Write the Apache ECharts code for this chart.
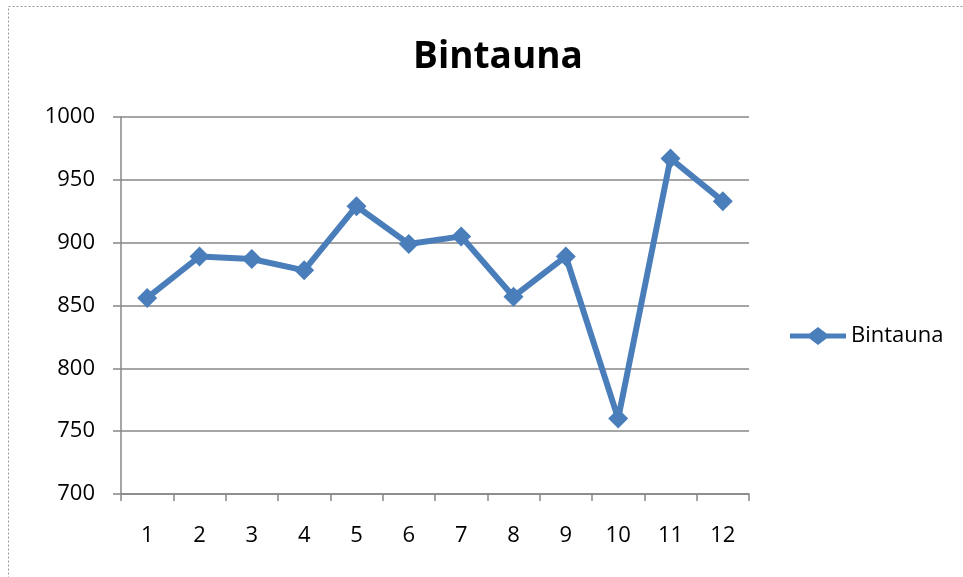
<!DOCTYPE html>
<html>
<head>
<meta charset="utf-8">
<script src="https://cdn.jsdelivr.net/npm/echarts@6/dist/echarts.min.js"></script>
<style>
  html, body { margin: 0; padding: 0; background: #fff; }
  #main { width: 963px; height: 577px; }
</style>
</head>
<body>
<div id="main"></div>
<script>
var seriesName = 'Bintauna';
var categories = ['1', '2', '3', '4', '5', '6', '7', '8', '9', '10', '11', '12'];
var values = [856, 889, 887, 878, 929, 899, 905, 857, 889, 760, 967, 933];
var yMin = 700, yMax = 1000, yStep = 50;

var font = '"Open Sans", sans-serif';
// line with a diamond in the middle, like the Excel legend key
var legendIcon = 'path://M0,7.5L19.5,7.5L28,1L36.5,7.5L56,7.5L56,12.5L36.5,12.5L28,19L19.5,12.5L0,12.5Z';
var myChart = echarts.init(document.getElementById('main'));

var option = {
  animation: false,
  backgroundColor: '#fff',
  title: {
    text: 'Bintauna',
    left: 493,
    textAlign: 'center',
    top: 34,
    textStyle: { fontFamily: font, fontSize: 37, fontWeight: 'bold', color: '#000' }
  },
  legend: {
    left: 785,
    top: 320,
    itemWidth: 56,
    itemHeight: 20,
    data: [{ name: seriesName, icon: legendIcon }],
    textStyle: { fontFamily: font, fontSize: 22, color: '#000' }
  },
  grid: { left: 121, right: 214, top: 117, bottom: 83 },
  xAxis: {
    type: 'category',
    data: categories,
    boundaryGap: true,
    axisLine: { lineStyle: { color: '#878787', width: 1.5 } },
    axisTick: { show: true, interval: 0, length: 7, lineStyle: { color: '#878787', width: 1.5 } },
    axisLabel: { margin: 31, fontFamily: font, fontSize: 22, color: '#000' }
  },
  yAxis: {
    type: 'value',
    min: yMin,
    max: yMax,
    interval: yStep,
    axisLine: { show: true, lineStyle: { color: '#878787', width: 1.5 } },
    axisTick: { show: true, length: 8, lineStyle: { color: '#878787', width: 1.5 } },
    splitLine: { lineStyle: { color: '#878787', width: 1.5 } },
    axisLabel: {
      margin: 26, fontFamily: font, fontSize: 22, color: '#000',
      formatter: function (v) { return String(v); }
    }
  },
  graphic: [{
    type: 'rect',
    shape: { x: 8.5, y: 6.5, width: 1000, height: 700 },
    style: { fill: 'none', stroke: '#9a9a9a', lineWidth: 1, lineDash: [2, 2] },
    z: -1
  }],
  series: [{
    name: seriesName,
    type: 'line',
    data: values,
    symbol: 'diamond',
    symbolSize: 20,
    lineStyle: { color: '#4a7ebb', width: 6 },
    itemStyle: { color: '#4a7ebb' }
  }]
};

myChart.setOption(option);
window.onresize = myChart.resize;
</script>
</body>
</html>
